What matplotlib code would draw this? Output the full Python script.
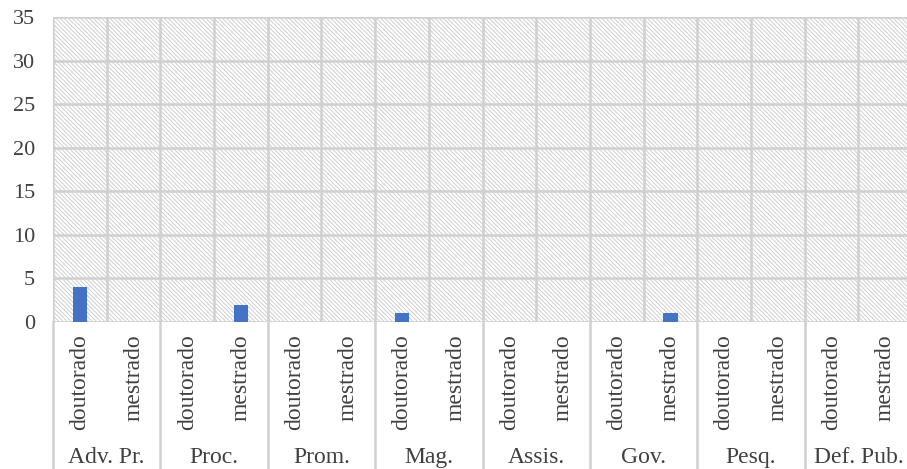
import matplotlib.pyplot as plt
from matplotlib.patches import Rectangle
import matplotlib.transforms as mtransforms

# counts per career group, split by degree
groups = ["Adv. Pr.", "Proc.", "Prom.", "Mag.", "Assis.", "Gov.", "Pesq.", "Def. Pub."]
degrees = ["doutorado", "mestrado"]
doutorado = [4, 0, 0, 1, 0, 0, 0, 0]
mestrado = [0, 2, 0, 0, 0, 1, 0, 0]
yticks = [0, 5, 10, 15, 20, 25, 30, 35]

plt.rcParams['font.family'] = ['Liberation Serif', 'DejaVu Serif']
plt.rcParams['hatch.color'] = '#d2d2d2'
plt.rcParams['hatch.linewidth'] = 0.75

text_col = '#404040'
grid_col = '#d0d0d0'

fig = plt.figure(figsize=(9.07, 4.69), dpi=100)
ax = fig.add_axes([53 / 907, 1 - 322 / 469, (912 - 53) / 907, (322 - 17) / 469])

n = len(groups) * len(degrees)
values = []
for d, m in zip(doutorado, mestrado):
    values += [d, m]
xs = [i + 0.5 for i in range(n)]

ax.set_xlim(0, n)
ax.set_ylim(0, 35)

# hatched plot background
ax.add_patch(Rectangle((0, 0), n, 35, facecolor='white', edgecolor='#d2d2d2',
                       hatch='\\' * 8, linewidth=0, zorder=0))

# grid lines
for y in yticks:
    ax.axhline(y, color=grid_col, lw=1.8, zorder=1)
for x in range(n + 1):
    ax.axvline(x, color=grid_col, lw=1.8, zorder=1)

ax.bar(xs, values, width=0.27, color='#4472C4', zorder=3)

for s in ax.spines.values():
    s.set_visible(False)
ax.set_xticks([])
ax.set_yticks(yticks)
ax.set_yticklabels([str(v) for v in yticks], fontsize=16, color=text_col)
ax.tick_params(axis='y', length=0, pad=13)

trans = mtransforms.blended_transform_factory(ax.transData, ax.transAxes)
for i, x in enumerate(xs):
    ax.text(x, -0.04, degrees[i % 2], rotation=90, ha='center', va='top',
            fontsize=17, color=text_col, transform=trans)
for g, name in enumerate(groups):
    ax.text(2 * g + 1, -0.445, name, ha='center', va='center',
            fontsize=17, color=text_col, transform=trans)
for g in range(len(groups) + 1):
    ax.plot([2 * g, 2 * g], [0, -0.5], color=grid_col, lw=1.8,
            transform=trans, clip_on=False)

fig.savefig('out.png', dpi=100, facecolor='white')
